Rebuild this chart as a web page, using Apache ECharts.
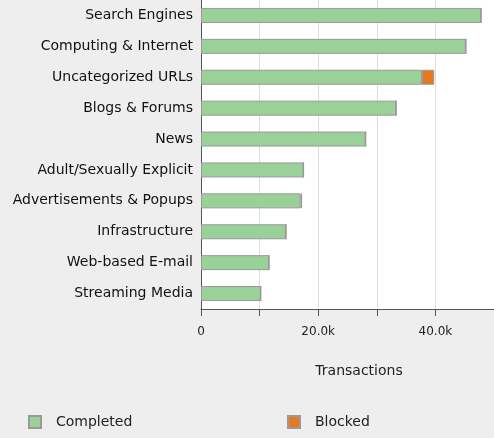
<!DOCTYPE html>
<html>
<head>
<meta charset="utf-8">
<script src="https://cdn.jsdelivr.net/npm/echarts@6/dist/echarts.min.js"></script>
<style>
html,body{margin:0;padding:0;background:#eeeeee;overflow:hidden;}
#main{width:494px;height:438px;}
</style>
</head>
<body>
<div id="main"></div>
<script>
var categories = ['Search Engines', 'Computing & Internet', 'Uncategorized URLs', 'Blogs & Forums', 'News',
	'Adult/Sexually Explicit', 'Advertisements & Popups', 'Infrastructure', 'Web-based E-mail', 'Streaming Media'];
var completed = [47800, 45200, 37700, 33300, 28100, 17500, 17000, 14500, 11600, 10200];
var blocked = [0, 0, 2100, 0, 0, 0, 250, 0, 0, 0];
var tickLabels = {0: '0', 20000: '20.0k', 40000: '40.0k'};

var font = 'DejaVu Sans';
var chart = echarts.init(document.getElementById('main'));
chart.setOption({
	backgroundColor: '#eeeeee',
	animation: false,
	textStyle: {fontFamily: font},
	grid: {left: 201, right: 0, top: 0, height: 309, show: true, backgroundColor: '#ffffff', borderWidth: 0,
		containLabel: false, outerBoundsMode: 'none'},
	legend: [
		{data: ['Completed'], left: 28, top: 415, padding: 0, icon: 'rect', itemWidth: 12, itemHeight: 12,
			textStyle: {fontSize: 14, color: '#222', padding: [3, 0, 0, 10]}},
		{data: ['Blocked'], left: 287, top: 415, padding: 0, icon: 'rect', itemWidth: 12, itemHeight: 12,
			textStyle: {fontSize: 14, color: '#222', padding: [3, 0, 0, 10]}}
	],
	xAxis: {
		type: 'value', min: 0, max: 50000, interval: 10000,
		name: 'Transactions', nameLocation: 'middle', nameGap: 55,
		nameTextStyle: {fontSize: 14, color: '#222', padding: [0, 0, 0, 23]},
		axisLine: {show: true, lineStyle: {color: '#555'}},
		axisTick: {show: true, length: 7, lineStyle: {color: '#555'}},
		axisLabel: {fontSize: 12, color: '#222', margin: 17, formatter: function (v) { return tickLabels[v] || ''; }},
		splitLine: {lineStyle: {color: '#dddddd'}}
	},
	yAxis: {
		type: 'category', data: categories, inverse: true,
		axisLine: {show: true, lineStyle: {color: '#555'}},
		axisTick: {show: false},
		axisLabel: {fontSize: 14, color: '#111', margin: 8}
	},
	series: [
		{name: 'Completed', type: 'bar', stack: 't', data: completed, barWidth: 15,
			itemStyle: {color: '#99d199', borderColor: '#999999', borderWidth: 1}},
		{name: 'Blocked', type: 'bar', stack: 't', data: blocked, barWidth: 15,
			itemStyle: {color: '#e6781e', borderColor: '#999999', borderWidth: 1}}
	]
});
</script>
</body>
</html>
